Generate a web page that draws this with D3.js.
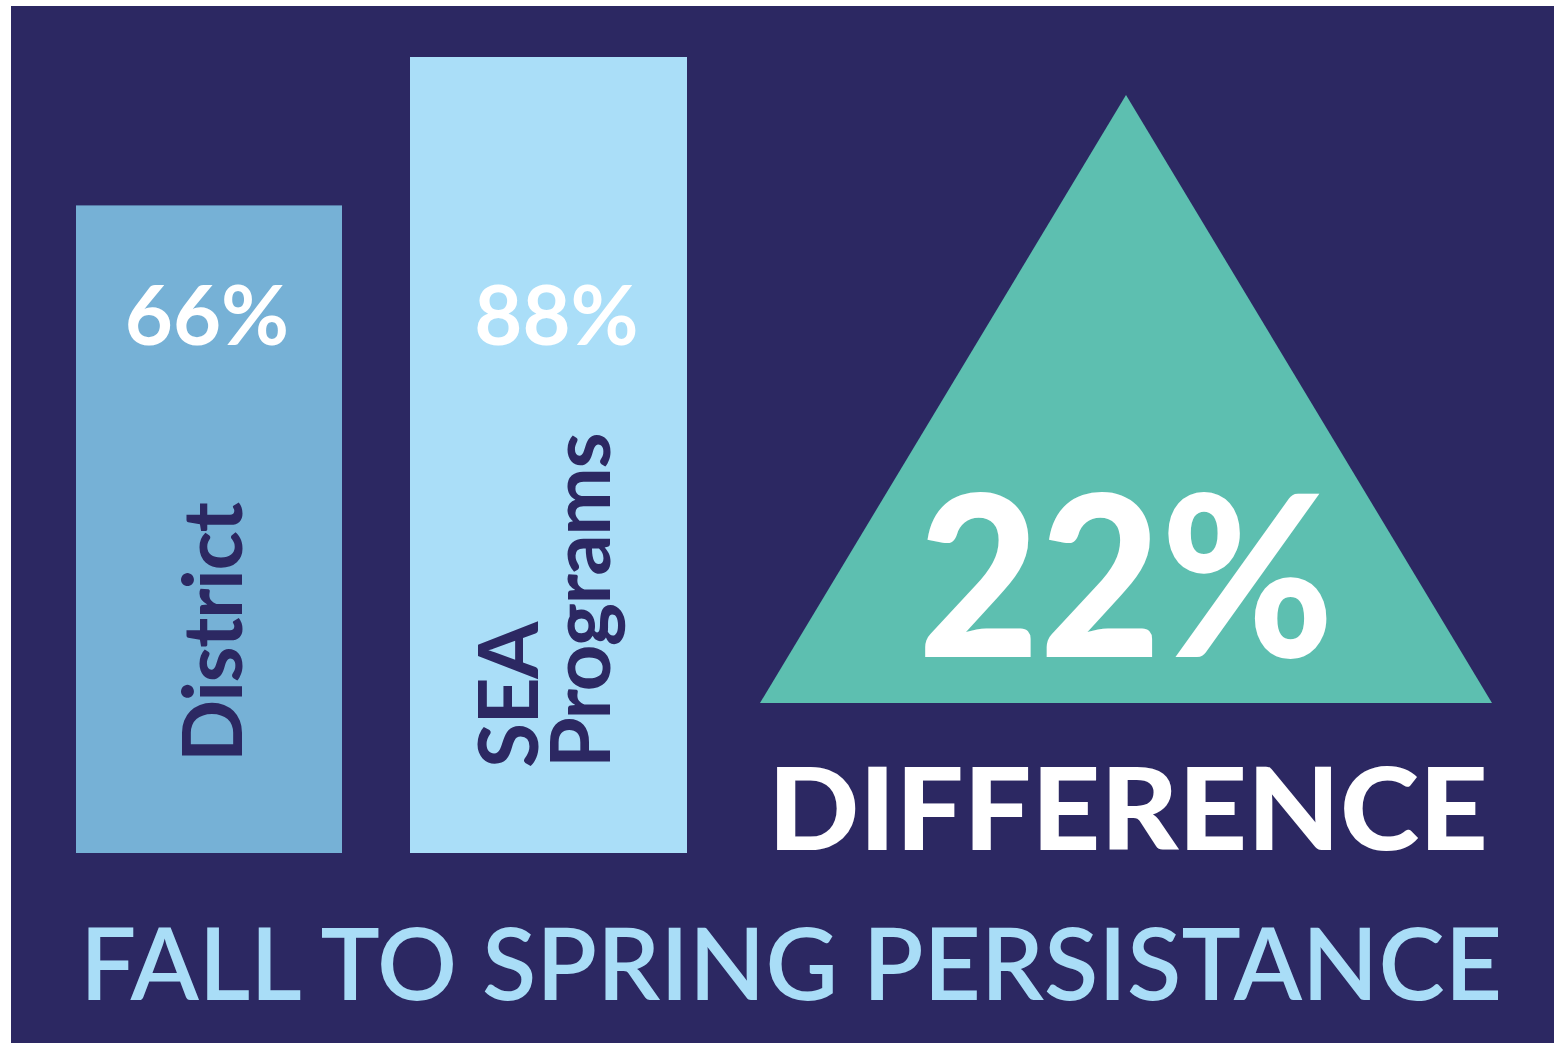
<!DOCTYPE html>
<html><head><meta charset="utf-8">
<script src="https://cdn.jsdelivr.net/npm/d3@7"></script>
<style>html,body{margin:0;padding:0;background:#fff;}svg{display:block;}</style>
</head><body>
<svg id="c" width="1554" height="1043"></svg>
<script>
const categories = ["District", "SEA Programs"];
const values = [66, 88];
const valueLabels = ["66%", "88%"];
const categoryLines = [["District"], ["SEA", "Programs"]];
const difference = 22;
const differenceLabel = "22%";
const differenceText = "DIFFERENCE";
const title = "FALL TO SPRING PERSISTANCE";

const colors = { bg: "#2c2862", bars: ["#76b1d6", "#aadef8"], tri: "#5dbfb0", text: "#2c2862", title: "#a9ddf7" };
const font = "Lato, 'Open Sans', sans-serif";

const svg = d3.select("#c");
svg.append("rect").attr("x", 11).attr("y", 6).attr("width", 1543).attr("height", 1037).attr("fill", colors.bg);

const x = d3.scaleOrdinal().domain(categories).range([76, 410]);
const widths = [266, 277];
const y = d3.scaleLinear().domain([-30, 88]).range([853, 57]);

const g = svg.append("g");
g.selectAll("rect.bar").data(values).enter().append("rect")
  .attr("class", "bar")
  .attr("x", (d, i) => x(categories[i]))
  .attr("width", (d, i) => widths[i])
  .attr("y", d => y(d))
  .attr("height", d => y.range()[0] - y(d))
  .attr("fill", (d, i) => colors.bars[i]);

const labelDx = [-2, 8];
g.selectAll("text.val").data(values).enter().append("text")
  .attr("class", "val")
  .attr("x", (d, i) => x(categories[i]) + widths[i] / 2 + labelDx[i])
  .attr("y", 345)
  .attr("text-anchor", "middle")
  .attr("font-family", font).attr("font-weight", 700).attr("font-size", 83)
  .attr("fill", "#fff")
  .text((d, i) => valueLabels[i]);

// rotated category labels
const catBase = [[242], [538, 610]];
const catStart = [762, 768];
categoryLines.forEach((lines, i) => {
  lines.forEach((ln, j) => {
    g.append("text")
      .attr("transform", `translate(${catBase[i][j]},${catStart[i]}) rotate(-90)`)
      .attr("font-family", font).attr("font-weight", 700).attr("font-size", 82)
      .attr("letter-spacing", -1.5)
      .attr("fill", colors.text)
      .text(ln);
  });
});

// triangle
const tri = [[760, 703], [1126, 95], [1492, 703]];
svg.append("path").attr("d", d3.line()(tri) + "Z").attr("fill", colors.tri);

svg.append("text").attr("x", 918).attr("y", 657)
  .attr("font-family", font).attr("font-weight", 900).attr("font-size", 226)
  .attr("fill", "#fff").attr("textLength", 416).attr("lengthAdjust", "spacingAndGlyphs")
  .text(differenceLabel);

svg.append("text").attr("x", 768).attr("y", 850)
  .attr("font-family", font).attr("font-weight", 900).attr("font-size", 114)
  .attr("fill", "#fff").attr("textLength", 720).attr("lengthAdjust", "spacingAndGlyphs")
  .text(differenceText);

svg.append("text").attr("x", 80).attr("y", 1000)
  .attr("font-family", font).attr("font-weight", 600).attr("font-size", 100)
  .attr("fill", colors.title).attr("textLength", 1422).attr("lengthAdjust", "spacingAndGlyphs")
  .text(title);
</script>
</body></html>
